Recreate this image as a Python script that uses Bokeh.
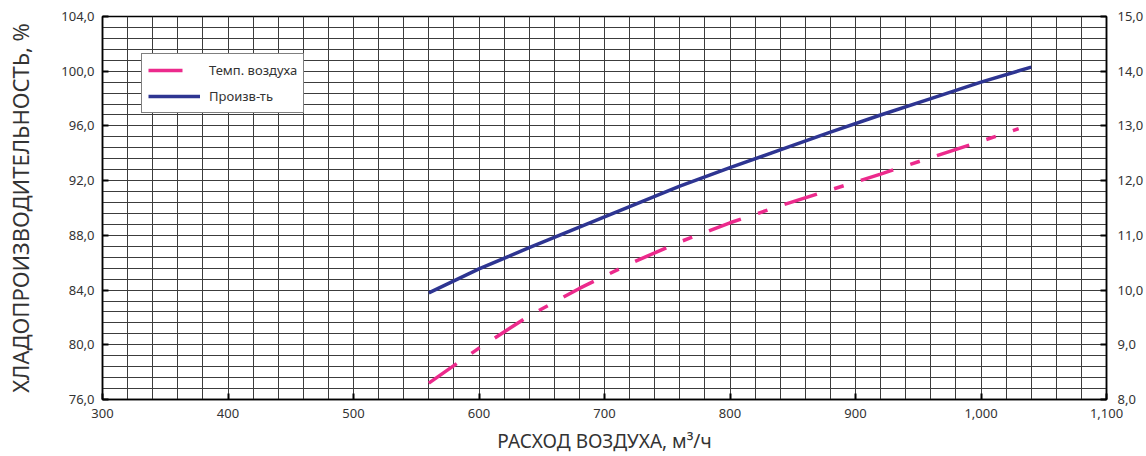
from bokeh.plotting import figure
from bokeh.models import LinearAxis, Range1d, FixedTicker, Legend, LegendItem
from bokeh.embed import file_html
from bokeh.resources import INLINE

# ---- data -------------------------------------------------------------
airflow_capacity = [560, 600, 640, 680, 720, 760, 800, 840, 880, 920, 960, 1000, 1040]
capacity_pct = [83.8, 85.55, 87.1, 88.6, 90.1, 91.6, 92.95, 94.25, 95.55, 96.8, 98.0, 99.2, 100.3]

airflow_temp = [560, 600, 640, 680, 720, 760, 800, 840, 880, 920, 960, 1000, 1030]
air_temp = [8.30, 8.94, 9.53, 10.03, 10.48, 10.88, 11.23, 11.54, 11.83, 12.12, 12.42, 12.72, 12.95]

x_ticks = [300, 400, 500, 600, 700, 800, 900, 1000, 1100]
x_tick_labels = ["300", "400", "500", "600", "700", "800", "900", "1,000", "1,100"]
left_ticks = [76, 80, 84, 88, 92, 96, 100, 104]
left_tick_labels = ["76,0", "80,0", "84,0", "88,0", "92,0", "96,0", "100,0", "104,0"]
right_ticks = [8, 9, 10, 11, 12, 13, 14, 15]
right_tick_labels = ["8,0", "9,0", "10,0", "11,0", "12,0", "13,0", "14,0", "15,0"]

series_names = ["Темп. воздуха", "Произв-ть"]
x_title = "РАСХОД ВОЗДУХА, м³/ч"
y_title = "ХЛАДОПРОИЗВОДИТЕЛЬНОСТЬ, %"

FONT = "Noto Sans"
TXT = "#333333"

p = figure(width=1146, height=456, output_backend="svg", toolbar_location=None,
           x_range=Range1d(300, 1100), y_range=Range1d(76, 104),
           min_border_left=102, min_border_right=38, min_border_top=16, min_border_bottom=57)
p.extra_y_ranges = {"temp": Range1d(8, 15)}
p.background_fill_color = "white"
p.border_fill_color = "white"
p.outline_line_color = "black"
p.outline_line_width = 1.5

# grid
p.xgrid.ticker = FixedTicker(ticks=[300 + 20 * i for i in range(41)])
p.ygrid.ticker = FixedTicker(ticks=[76 + 0.8 * i for i in range(36)])
for g in (p.xgrid, p.ygrid):
    g.grid_line_color = "#3c3c3c"
    g.grid_line_width = 1
    g.grid_line_alpha = 1.0

# axes
xa = p.xaxis[0]
xa.ticker = FixedTicker(ticks=x_ticks)
xa.major_label_overrides = dict(zip(x_ticks, x_tick_labels))
xa.axis_label = x_title
xa.axis_label_standoff = 7
xa.major_label_standoff = 9

ya = p.yaxis[0]
ya.ticker = FixedTicker(ticks=left_ticks)
ya.major_label_overrides = dict(zip(left_ticks, left_tick_labels))
ya.axis_label = y_title
ya.axis_label_standoff = 23
ya.major_label_standoff = 8

ra = LinearAxis(y_range_name="temp", ticker=FixedTicker(ticks=right_ticks))
ra.major_label_overrides = dict(zip(right_ticks, right_tick_labels))
ra.major_label_standoff = 11
p.add_layout(ra, "right")

for ax in (xa, ya, ra):
    ax.axis_line_color = "black"
    ax.axis_line_width = 1.5
    ax.major_tick_in = 6
    ax.major_tick_out = 0
    ax.major_tick_line_color = "black"
    ax.major_tick_line_width = 2
    ax.minor_tick_line_color = None
    ax.major_label_text_font = FONT
    ax.major_label_text_font_size = "13px"
    ax.major_label_text_color = TXT
    ax.axis_label_text_font = FONT
    ax.axis_label_text_font_size = "19px"
    ax.axis_label_text_font_style = "normal"
    ax.axis_label_text_color = TXT

ya.axis_label_text_font_size = "22px"

# lines
pink = p.line(airflow_temp, air_temp, y_range_name="temp", line_color="#EC2A8C",
              line_width=3.5, line_dash="34 18 10 18")
blue = p.line(airflow_capacity, capacity_pct, line_color="#2E3592", line_width=3.5)

legend = Legend(items=[LegendItem(label=series_names[0], renderers=[pink]),
                       LegendItem(label=series_names[1], renderers=[blue])],
                location=(39, 286), border_line_color="black", border_line_width=1.5,
                background_fill_color="white", background_fill_alpha=1.0,
                label_text_font=FONT, label_text_font_size="13px", label_text_color=TXT,
                glyph_width=52, glyph_height=20, label_height=20, spacing=6,
                padding=6, label_standoff=9, margin=0)
p.add_layout(legend)

open("out.html", "w").write(file_html(p, INLINE))
